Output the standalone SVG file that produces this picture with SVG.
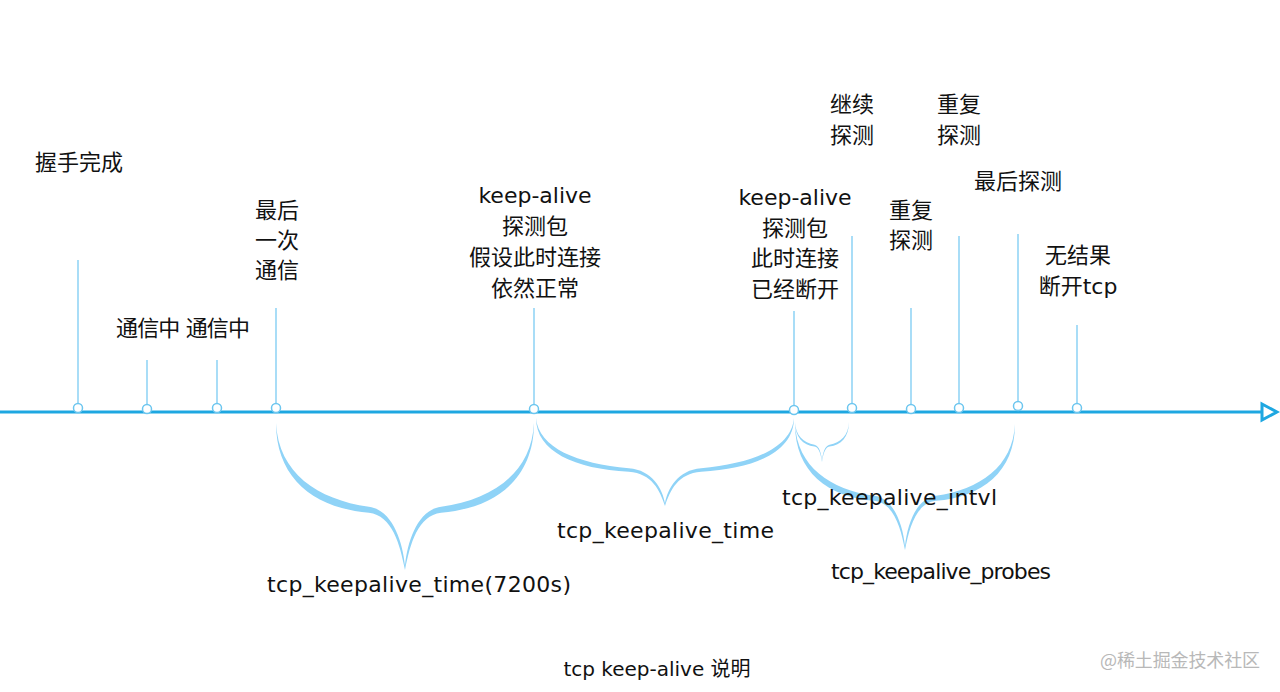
<svg xmlns="http://www.w3.org/2000/svg" xmlns:xlink="http://www.w3.org/1999/xlink" width="1280" height="692" viewBox="0 0 1280 692">
<style>
text{font-family:"DejaVu Sans","Noto Sans CJK SC",sans-serif;font-size:22px;fill:#111}
.c{text-anchor:middle}
.tick{stroke:#93d5f5;stroke-width:1.6;fill:none}
.dot{stroke:#6cc6ef;stroke-width:1.5;fill:#fff}
.brace{fill:#8fd3f7}
.wm{font-family:"Noto Sans CJK SC",sans-serif;font-size:18px;fill:#b8b8b8}
</style>
<defs>
<path id="brace" d="M0,0 C0,38 15,58 36,61 C45,63 48,82 50,100 C52,82 55,63 64,61 C85,58 100,38 100,0 C99,34 84,52 64,57 C55,59 51,80 50,97 C49,80 45,59 36,57 C16,52 1,34 0,0 Z"/>
</defs>
<rect width="1280" height="692" fill="#fff"/>
<g id="connectors">
<line x1="0" y1="412" x2="1262" y2="412" stroke="#1ea7e1" stroke-width="3"/>
<path d="M1262,404 L1277,412 L1262,420 Z" fill="#fff" stroke="#1ea7e1" stroke-width="3" stroke-linejoin="miter"/>
<line class="tick" x1="78" y1="260" x2="78" y2="404"/>
<line class="tick" x1="147" y1="360" x2="147" y2="405"/>
<line class="tick" x1="217" y1="360" x2="217" y2="404"/>
<line class="tick" x1="276" y1="308" x2="276" y2="404"/>
<line class="tick" x1="534" y1="308" x2="534" y2="404"/>
<line class="tick" x1="794" y1="311" x2="794" y2="405"/>
<line class="tick" x1="852" y1="236" x2="852" y2="403"/>
<line class="tick" x1="911" y1="308" x2="911" y2="404"/>
<line class="tick" x1="959" y1="236" x2="959" y2="403"/>
<line class="tick" x1="1018" y1="234" x2="1018" y2="401"/>
<line class="tick" x1="1077" y1="325" x2="1077" y2="403"/>
<circle class="dot" cx="78" cy="408" r="4.5"/>
<circle class="dot" cx="147" cy="409" r="4.5"/>
<circle class="dot" cx="217" cy="408" r="4.5"/>
<circle class="dot" cx="276" cy="408" r="4.5"/>
<circle class="dot" cx="534" cy="409" r="4.5"/>
<circle class="dot" cx="794" cy="410" r="4.5"/>
<circle class="dot" cx="852" cy="408" r="4.5"/>
<circle class="dot" cx="911" cy="409" r="4.5"/>
<circle class="dot" cx="959" cy="408" r="4.5"/>
<circle class="dot" cx="1018" cy="406" r="4.5"/>
<circle class="dot" cx="1077" cy="408" r="4.5"/>
<use xlink:href="#brace" class="brace" transform="translate(276,423) scale(2.58,1.47)"/>
<use xlink:href="#brace" class="brace" transform="translate(536,418) scale(2.58,0.88)"/>
<use xlink:href="#brace" class="brace" transform="translate(795,422) scale(0.54,0.40)"/>
<use xlink:href="#brace" class="brace" transform="translate(795,424) scale(2.2,1.26)"/>
</g>
<g id="n-handshake"><text x="35" y="170">握手完成</text></g>
<g id="n-comm"><text x="116" y="336" textLength="134">通信中 通信中</text></g>
<g id="n-last"><text class="c" x="277" y="218">最后</text><text class="c" x="277" y="248">一次</text><text class="c" x="277" y="278">通信</text></g>
<g id="n-probe1"><text class="c" x="535" y="203">keep-alive</text><text class="c" x="535" y="234">探测包</text><text class="c" x="535" y="265">假设此时连接</text><text class="c" x="535" y="296">依然正常</text></g>
<g id="n-probe2"><text class="c" x="795" y="205">keep-alive</text><text class="c" x="795" y="236">探测包</text><text class="c" x="795" y="266">此时连接</text><text class="c" x="795" y="297">已经断开</text></g>
<g id="n-cont"><text class="c" x="852" y="112">继续</text><text class="c" x="852" y="143">探测</text></g>
<g id="n-rep2"><text class="c" x="959" y="112">重复</text><text class="c" x="959" y="143">探测</text></g>
<g id="n-rep1"><text class="c" x="911" y="218">重复</text><text class="c" x="911" y="248">探测</text></g>
<g id="n-final"><text class="c" x="1018" y="189">最后探测</text></g>
<g id="n-none"><text class="c" x="1078" y="263">无结果</text><text class="c" x="1078" y="294">断开tcp</text></g>
<g id="labels">
<text x="267" y="592" textLength="304">tcp_keepalive_time(7200s)</text>
<text x="557" y="538" textLength="217">tcp_keepalive_time</text>
<text x="782" y="505" textLength="215">tcp_keepalive_intvl</text>
<text x="831" y="579" textLength="220">tcp_keepalive_probes</text>
<text class="c" x="657" y="676" style="font-size:20px">tcp keep-alive 说明</text>
<text class="wm" x="1100" y="667" textLength="160">@稀土掘金技术社区</text>
</g>
</svg>
